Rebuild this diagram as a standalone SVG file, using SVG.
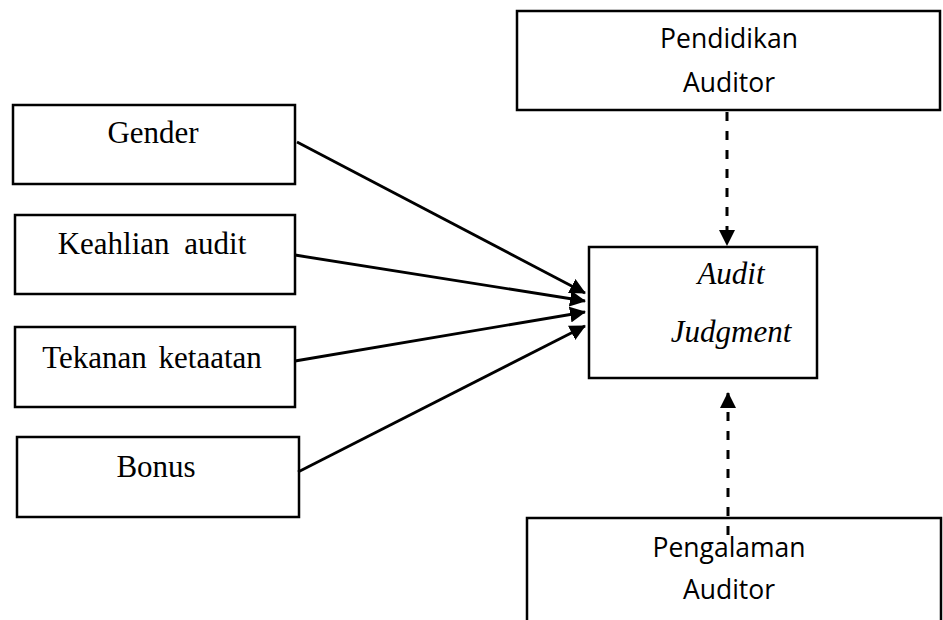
<svg xmlns="http://www.w3.org/2000/svg" width="943" height="620" viewBox="0 0 943 620">
<defs>
<style>
.box{fill:#fff;stroke:#000;stroke-width:2.5}
.serif{font-family:"Liberation Serif","Times New Roman",serif;font-size:31px;fill:#000;text-anchor:middle}
.sans{font-family:"Open Sans","Noto Sans",sans-serif;font-size:26.5px;fill:#000;text-anchor:middle}
.ital{font-style:italic}
.conn{stroke:#000;stroke-width:2.8;fill:none}
.dash{stroke:#000;stroke-width:3;fill:none;stroke-dasharray:9 10}
</style>
<marker id="arrL" markerWidth="16" markerHeight="16" refX="15" refY="8" orient="auto" markerUnits="userSpaceOnUse" viewBox="0 0 16 16">
<path d="M0,0 L16,8 L0,16 z" fill="#000"/>
</marker>
</defs>
<rect width="943" height="620" fill="#fff"/>
<g id="gender"><rect class="box" x="13" y="105" width="282" height="79"/><text class="serif" x="153" y="143">Gender</text></g>
<g id="keahlian"><rect class="box" x="15" y="215" width="280" height="79"/><text class="serif" x="152" y="254" style="word-spacing:7px">Keahlian audit</text></g>
<g id="tekanan"><rect class="box" x="15" y="327" width="280" height="80"/><text class="serif" x="152" y="368" style="word-spacing:4px">Tekanan ketaatan</text></g>
<g id="bonus"><rect class="box" x="17" y="437" width="282" height="80"/><text class="serif" x="156" y="477">Bonus</text></g>
<g id="judgment"><rect class="box" x="589" y="247" width="228" height="131"/><text class="serif ital" x="731" y="284">Audit</text><text class="serif ital" x="731" y="342">Judgment</text></g>
<g id="pendidikan"><rect class="box" x="517" y="11" width="423" height="99"/><text class="sans" x="729" y="48">Pendidikan</text><text class="sans" x="729" y="92">Auditor</text></g>
<g id="pengalaman"><rect class="box" x="527" y="518" width="414" height="130"/><text class="sans" x="729" y="557">Pengalaman</text><text class="sans" x="729" y="599">Auditor</text></g>
<g id="connectors">
<line class="conn" x1="297" y1="142" x2="585" y2="293" marker-end="url(#arrL)"/>
<line class="conn" x1="295" y1="255" x2="585" y2="301" marker-end="url(#arrL)"/>
<line class="conn" x1="295" y1="361" x2="585" y2="312" marker-end="url(#arrL)"/>
<line class="conn" x1="298" y1="472" x2="585" y2="326" marker-end="url(#arrL)"/>
<line class="dash" x1="727" y1="112" x2="727" y2="245" marker-end="url(#arrL)"/>
<line class="dash" x1="728" y1="535" x2="728" y2="393" marker-end="url(#arrL)"/>
</g>
</svg>
